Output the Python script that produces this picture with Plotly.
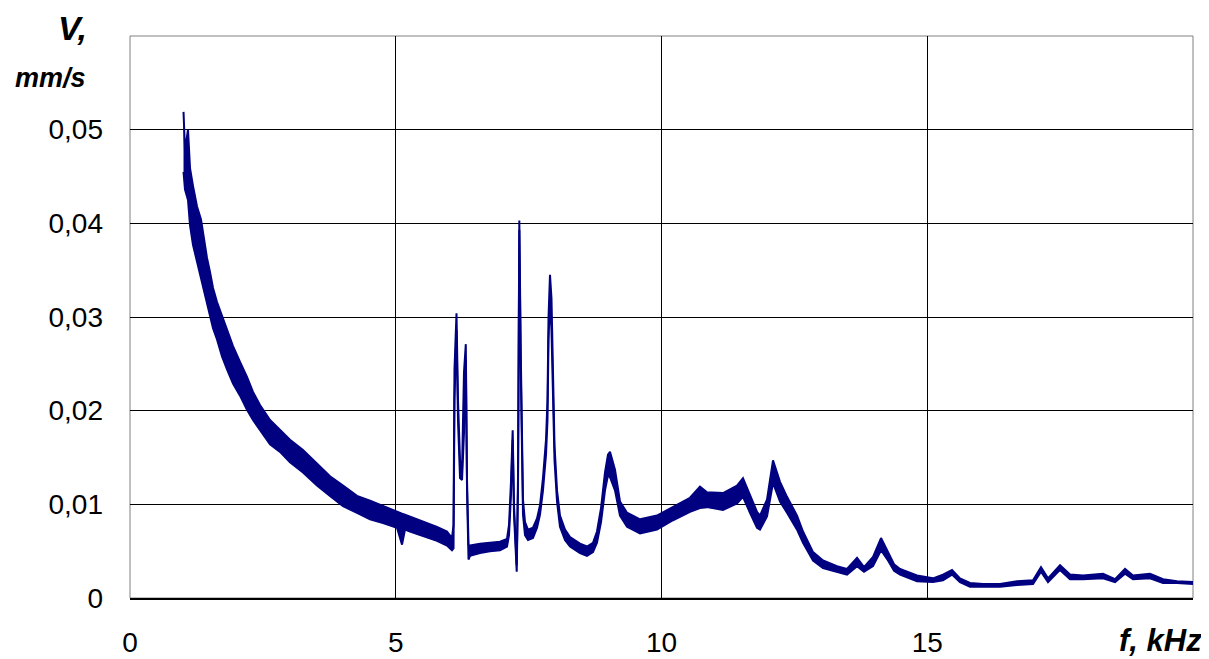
import plotly.graph_objects as go

# frequency, kHz
freq = [1.007, 1.035, 1.091, 1.129, 1.185, 1.261, 1.336, 1.392, 1.449, 1.505,
        1.562, 1.637, 1.731, 1.825, 1.938, 2.070, 2.201, 2.314, 2.446, 2.634,
        2.822, 3.010, 3.255, 3.518, 3.763, 4.008, 4.271, 4.516, 4.760, 5.024,
        5.118, 5.174, 5.268, 5.513, 5.776, 5.964, 6.058, 6.087, 6.105, 6.143,
        6.171, 6.209, 6.247, 6.284, 6.318, 6.341, 6.369, 6.397, 6.585, 6.773,
        6.962, 7.093, 7.131, 7.168, 7.200, 7.225, 7.253, 7.276, 7.300, 7.325,
        7.351, 7.375, 7.394, 7.432, 7.488, 7.582, 7.658, 7.714, 7.770, 7.827,
        7.855, 7.874, 7.902, 7.930, 7.959, 7.987, 8.034, 8.090, 8.184, 8.279,
        8.467, 8.598, 8.711, 8.786, 8.862, 8.937, 8.993, 9.031, 9.125, 9.219,
        9.351, 9.596, 9.915, 10.216, 10.536, 10.724, 10.856, 11.157, 11.421, 11.533,
        11.665, 11.797, 11.853, 11.985, 12.098, 12.230, 12.361, 12.550, 12.662, 12.851,
        13.039, 13.302, 13.490, 13.679, 13.810, 13.980, 14.130, 14.262, 14.375, 14.488,
        14.807, 15.108, 15.296, 15.466, 15.616, 15.804, 16.049, 16.369, 16.689, 16.990,
        17.140, 17.272, 17.498, 17.686, 17.930, 18.307, 18.533, 18.721, 18.871, 19.191,
        19.436, 19.699, 20.000]

# upper edge of the noisy band, mm/s
v_upper = [0.0519, 0.0478, 0.0500, 0.0459, 0.0440, 0.0418, 0.0404, 0.0382, 0.0363, 0.0348,
           0.0331, 0.0316, 0.0301, 0.0286, 0.0269, 0.0252, 0.0236, 0.0220, 0.0206, 0.0190,
           0.0179, 0.0169, 0.0158, 0.0144, 0.0130, 0.0120, 0.0109, 0.0104, 0.0098, 0.0092,
           0.0090, 0.0089, 0.0087, 0.0081, 0.0076, 0.0071, 0.0064, 0.0078, 0.0244, 0.0304,
           0.0211, 0.0147, 0.0137, 0.0241, 0.0271, 0.0126, 0.0057, 0.0056, 0.0058, 0.0059,
           0.0060, 0.0063, 0.0078, 0.0124, 0.0179, 0.0099, 0.0057, 0.0035, 0.0129, 0.0403,
           0.0265, 0.0190, 0.0105, 0.0081, 0.0073, 0.0075, 0.0085, 0.0099, 0.0128, 0.0169,
           0.0211, 0.0299, 0.0345, 0.0320, 0.0233, 0.0163, 0.0115, 0.0088, 0.0073, 0.0065,
           0.0058, 0.0055, 0.0059, 0.0071, 0.0096, 0.0134, 0.0153, 0.0156, 0.0137, 0.0103,
           0.0091, 0.0084, 0.0088, 0.0097, 0.0107, 0.0119, 0.0113, 0.0112, 0.0120, 0.0128,
           0.0109, 0.0092, 0.0088, 0.0105, 0.0147, 0.0124, 0.0108, 0.0088, 0.0071, 0.0049,
           0.0040, 0.0034, 0.0031, 0.0043, 0.0033, 0.0044, 0.0064, 0.0049, 0.0036, 0.0031,
           0.0024, 0.0021, 0.0025, 0.0030, 0.0021, 0.0016, 0.0015, 0.0015, 0.0018, 0.0019,
           0.0033, 0.0021, 0.0035, 0.0025, 0.0024, 0.0026, 0.0020, 0.0031, 0.0024, 0.0026,
           0.0020, 0.0018, 0.0017]

# lower edge of the noisy band, mm/s
v_lower = [0.0455, 0.0436, 0.0425, 0.0398, 0.0377, 0.0359, 0.0342, 0.0329, 0.0313, 0.0301,
           0.0288, 0.0276, 0.0258, 0.0244, 0.0229, 0.0216, 0.0201, 0.0190, 0.0179, 0.0164,
           0.0156, 0.0145, 0.0134, 0.0120, 0.0109, 0.0098, 0.0091, 0.0084, 0.0080, 0.0075,
           0.0057, 0.0073, 0.0071, 0.0066, 0.0061, 0.0056, 0.0051, 0.0053, 0.0211, 0.0286,
           0.0190, 0.0128, 0.0126, 0.0176, 0.0254, 0.0115, 0.0041, 0.0045, 0.0048, 0.0050,
           0.0051, 0.0055, 0.0067, 0.0110, 0.0169, 0.0089, 0.0046, 0.0028, 0.0115, 0.0393,
           0.0249, 0.0137, 0.0089, 0.0067, 0.0062, 0.0064, 0.0075, 0.0089, 0.0115, 0.0153,
           0.0190, 0.0276, 0.0318, 0.0286, 0.0211, 0.0147, 0.0103, 0.0076, 0.0062, 0.0055,
           0.0048, 0.0045, 0.0049, 0.0059, 0.0081, 0.0115, 0.0131, 0.0129, 0.0115, 0.0088,
           0.0076, 0.0069, 0.0073, 0.0083, 0.0092, 0.0096, 0.0097, 0.0094, 0.0101, 0.0108,
           0.0091, 0.0075, 0.0073, 0.0087, 0.0123, 0.0103, 0.0091, 0.0073, 0.0059, 0.0040,
           0.0032, 0.0028, 0.0025, 0.0034, 0.0028, 0.0034, 0.0051, 0.0040, 0.0029, 0.0025,
           0.0018, 0.0017, 0.0019, 0.0025, 0.0017, 0.0012, 0.0012, 0.0012, 0.0014, 0.0015,
           0.0028, 0.0017, 0.0030, 0.0020, 0.0020, 0.0021, 0.0017, 0.0026, 0.0020, 0.0021,
           0.0016, 0.0016, 0.0015]

x_ticks = [0, 5, 10, 15]
x_tick_labels = ["0", "5", "10", "15"]
y_ticks = [0, 0.01, 0.02, 0.03, 0.04, 0.05]
y_tick_labels = ["0", "0,01", "0,02", "0,03", "0,04", "0,05"]

NAVY = "#000080"
FONT = "Liberation Sans, Arial, sans-serif"

fig = go.Figure()
fig.add_trace(go.Scatter(x=freq, y=v_lower, mode="lines",
                         line=dict(color=NAVY, width=2), showlegend=False,
                         hoverinfo="skip"))
fig.add_trace(go.Scatter(x=freq, y=v_upper, mode="lines", fill="tonexty",
                         fillcolor=NAVY, line=dict(color=NAVY, width=2),
                         showlegend=False))

# page body has an 8px margin: figure is sized/offset to compensate
fig.update_layout(
    width=1201, height=651,
    margin=dict(l=122, r=16, t=28, b=61, autoexpand=False),
    paper_bgcolor="white", plot_bgcolor="white",
    font=dict(family=FONT, size=28, color="black"),
    xaxis=dict(range=[0, 20], tickvals=x_ticks, ticktext=x_tick_labels,
               showgrid=True, gridcolor="black", gridwidth=1, automargin=False,
               zeroline=False, showline=True, linecolor="black", linewidth=1.5,
               ticks="", ticklabelstandoff=19,
               tickfont=dict(family=FONT, size=28, color="black")),
    yaxis=dict(range=[0, 0.06], tickvals=y_ticks, ticktext=y_tick_labels,
               showgrid=True, gridcolor="black", gridwidth=1, automargin=False,
               zeroline=False, showline=False,
               ticks="", ticklabelstandoff=26,
               tickfont=dict(family=FONT, size=28, color="black")),
    shapes=[dict(type="rect", xref="paper", yref="paper", x0=0, x1=1, y0=0, y1=1,
                 line=dict(color="#808080", width=1), layer="below")],
    annotations=[
        dict(text="<b><i>V,</i></b>", xref="paper", yref="paper",
             x=-0.054, y=1.015, xanchor="center", yanchor="middle",
             showarrow=False, font=dict(family=FONT, size=34, color="black")),
        dict(text="<b><i>mm/s</i></b>", xref="paper", yref="paper",
             x=-0.075, y=0.925, xanchor="center", yanchor="middle",
             showarrow=False, font=dict(family=FONT, size=27, color="black")),
        dict(text="<b><i>f, kHz</i></b>", xref="paper", yref="paper",
             x=1.0105, y=-0.075, xanchor="right", yanchor="middle",
             showarrow=False, font=dict(family=FONT, size=31, color="black")),
    ],
)

fig.write_html("out.html")
